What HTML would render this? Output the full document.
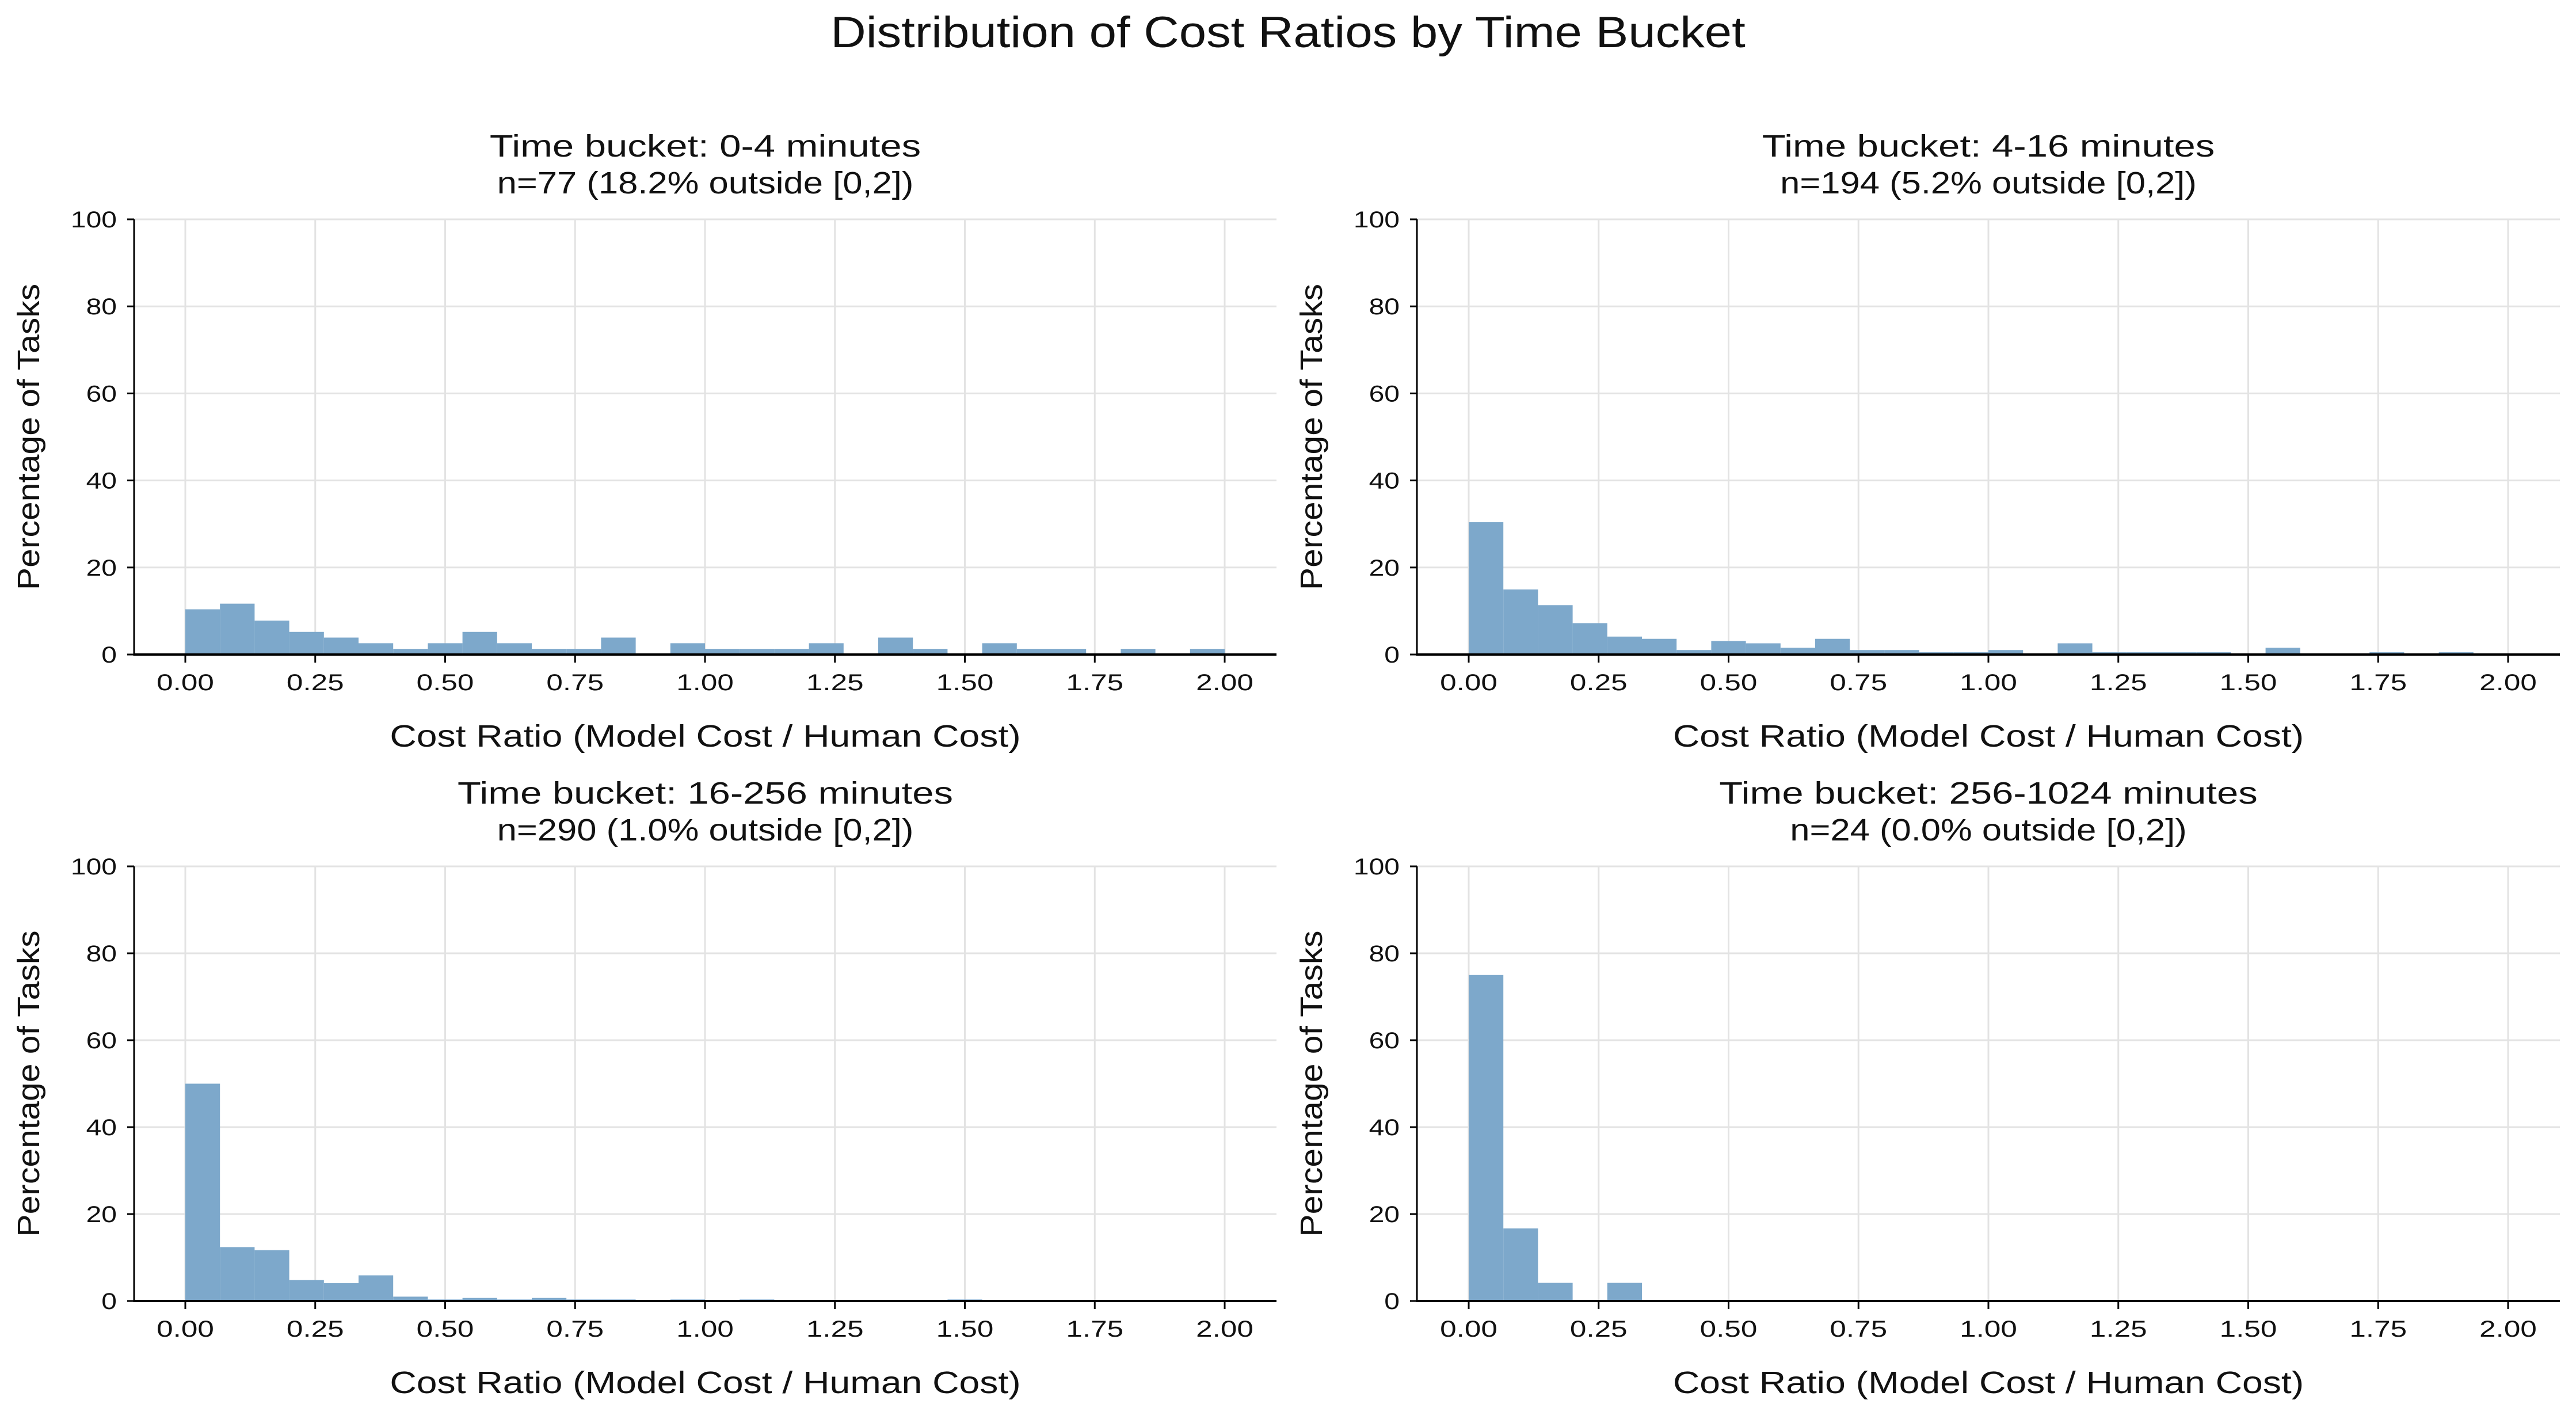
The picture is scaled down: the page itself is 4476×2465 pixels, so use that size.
<!DOCTYPE html>
<html><head><meta charset="utf-8"><style>
html,body{margin:0;padding:0;background:#fff;}
svg{display:block;font-family:"Liberation Sans",sans-serif;}
</style></head><body>
<svg id="fig" width="4476" height="2465" viewBox="0 0 4476 2465" xmlns="http://www.w3.org/2000/svg">
<rect width="4476" height="2465" fill="#fff"/>
<text id="suptitle" x="2238" y="82" font-size="76" text-anchor="middle" fill="#111">Distribution of Cost Ratios by Time Bucket</text>
</svg>
<script>
const binEdges0 = 0, binWidth = 2/30;
const xTicks = [0, 0.25, 0.5, 0.75, 1.0, 1.25, 1.5, 1.75, 2.0];
const xTickLabels = ["0.00","0.25","0.50","0.75","1.00","1.25","1.50","1.75","2.00"];
const yTicks = [0, 20, 40, 60, 80, 100];
const titles1 = ["Time bucket: 0-4 minutes","Time bucket: 4-16 minutes","Time bucket: 16-256 minutes","Time bucket: 256-1024 minutes"];
const titles2 = ["n=77 (18.2% outside [0,2])","n=194 (5.2% outside [0,2])","n=290 (1.0% outside [0,2])","n=24 (0.0% outside [0,2])"];
const counts0to4 = [8,9,6,4,3,2,1,2,4,2,1,1,3,0,2,1,1,1,2,0,3,1,0,2,1,1,0,1,0,1];
const counts4to16 = [59,29,22,14,8,7,2,6,5,3,7,2,2,1,1,2,0,5,1,1,1,1,0,3,0,0,1,0,1,0];
const pct16to256 = [50.0,12.4,11.7,4.8,4.1,5.9,1.0,0.35,0.7,0.35,0.7,0.35,0.35,0,0.35,0,0.35,0,0,0,0,0,0.35,0,0,0,0,0,0,0];
const pct256to1024 = [75.0,16.7,4.17,0,4.17,0,0,0,0,0,0,0,0,0,0,0,0,0,0,0,0,0,0,0,0,0,0,0,0,0];
const nTotals = [77, 194];

const seriesPct = [
  counts0to4.map(c => c / nTotals[0] * 100),
  counts4to16.map(c => c / nTotals[1] * 100),
  pct16to256,
  pct256to1024
];
const panels = [
  {x0:322, spineL:233, spineR:2218, y0:1137, y100:381, tY1:272, tY2:336},
  {x0:2552, spineL:2462, spineR:4448, y0:1137, y100:381, tY1:272, tY2:336},
  {x0:322, spineL:233, spineR:2218, y0:2260, y100:1505, tY1:1396, tY2:1460},
  {x0:2552, spineL:2462, spineR:4448, y0:2260, y100:1505, tY1:1396, tY2:1460}
];
const NS = "http://www.w3.org/2000/svg";
const fig = document.getElementById('fig');
function mk(tag, attrs, parent){ const e=document.createElementNS(NS,tag); for(const k in attrs) e.setAttribute(k,attrs[k]); parent.appendChild(e); return e; }
function widen(el, f){ const w = el.getComputedTextLength(); if (w > 0) { el.setAttribute('textLength', w * f); el.setAttribute('lengthAdjust', 'spacingAndGlyphs'); } }
widen(document.getElementById('suptitle'), 1.12);

panels.forEach((p, i) => {
  const xs = v => p.x0 + v * 903;
  const ys = v => p.y0 - v / 100 * (p.y0 - p.y100);
  const g = mk('g', {}, fig);
  
  
  const cx = (p.spineL + p.spineR) / 2;
  xTicks.forEach(t => {
    const l = mk('line', {x1:xs(t), x2:xs(t), y1:p.y100, y2:p.y0, stroke:'#e3e3e3', 'stroke-width':3}, g);
    
    
  });
  yTicks.forEach(t => {
    const l = mk('line', {x1:p.spineL, x2:p.spineR, y1:ys(t), y2:ys(t), stroke:'#e3e3e3', 'stroke-width':3}, g);
    
    
  });
  seriesPct[i].forEach((v, b) => {
    if (v <= 0) return;
    const xa = xs(binEdges0 + b * binWidth), xb = xs(binEdges0 + (b+1) * binWidth);
    const r = mk('rect', {x:xa, y:ys(v), width:xb - xa, height:p.y0 - ys(v), fill:'#7da8cb'}, g);
    
    
  });
  const sl = mk('line', {x1:p.spineL, x2:p.spineL, y1:p.y100, y2:p.y0, stroke:'#000', 'stroke-width':3}, g);
  
  
  const sb = mk('line', {x1:p.spineL - 1.5, x2:p.spineR, y1:p.y0, y2:p.y0, stroke:'#000', 'stroke-width':4}, g);
  
  
  xTicks.forEach((t, k) => {
    const tk = mk('line', {x1:xs(t), x2:xs(t), y1:p.y0, y2:p.y0 + 14, stroke:'#000', 'stroke-width':3}, g);
    
    
    const tl = mk('text', {x:xs(t), y:p.y0 + 62, 'font-size':40, 'text-anchor':'middle', fill:'#111'}, g);
    tl.textContent = xTickLabels[k];
    
    
    widen(tl, 1.28);
  });
  yTicks.forEach(t => {
    const tk = mk('line', {x1:p.spineL - 12, x2:p.spineL, y1:ys(t), y2:ys(t), stroke:'#000', 'stroke-width':3}, g);
    
    
    const tl = mk('text', {x:p.spineL - 30, y:ys(t) + 14, 'font-size':40, 'text-anchor':'end', fill:'#111'}, g);
    tl.textContent = String(t);
    
    
    widen(tl, 1.2);
  });
  const t1 = mk('text', {x:cx, y:p.tY1, 'font-size':54, 'text-anchor':'middle', fill:'#111'}, g);
  t1.textContent = titles1[i];
  
  
  widen(t1, 1.24);
  const t2 = mk('text', {x:cx, y:p.tY2, 'font-size':54, 'text-anchor':'middle', fill:'#111'}, g);
  t2.textContent = titles2[i];
  
  
  widen(t2, 1.14);
  const xl = mk('text', {x:cx, y:p.y0 + 160, 'font-size':54, 'text-anchor':'middle', fill:'#111'}, g);
  xl.textContent = 'Cost Ratio (Model Cost / Human Cost)';
  
  
  widen(xl, 1.19);
  const ly = (p.y0 + p.y100) / 2, lx = p.spineL - 165;
  const yl = mk('text', {x:lx, y:ly, 'font-size':54, 'text-anchor':'middle', fill:'#111', transform:'rotate(-90 ' + lx + ' ' + ly + ')'}, g);
  yl.textContent = 'Percentage of Tasks';
  
  
  widen(yl, 1.09);
});
</script>
</body></html>
